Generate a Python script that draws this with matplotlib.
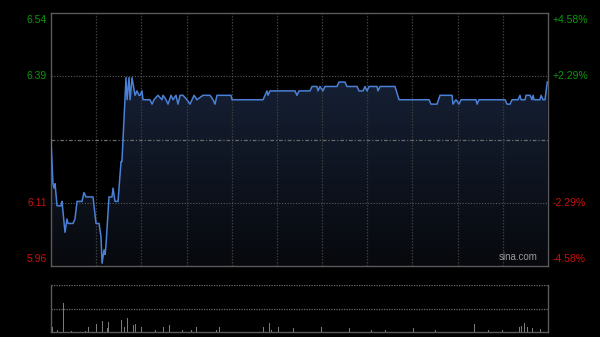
import numpy as np
import matplotlib
matplotlib.use("Agg")
import matplotlib.pyplot as plt
from matplotlib.patches import Polygon
from matplotlib.colors import LinearSegmentedColormap
import matplotlib.transforms as mtransforms

plt.rcParams['font.family'] = ['Liberation Sans', 'DejaVu Sans']

# ---- data ----
prev_close = 6.25
pct_limit = 4.58  # percent range shown
left_labels = ["6.54", "6.39", "6.11", "5.96"]
right_labels = ["+4.58%", "+2.29%", "-2.29%", "-4.58%"]
label_pcts = [4.58, 2.29, -2.29, -4.58]

# minutes since 9:30 (HK session, 330 trading minutes)
price_min = [0, 1.3, 2.0, 2.7, 4.0, 6.6, 7.3, 9.3, 10.6, 11.3, 14.6, 15.9, 17.3, 20.6,
             21.9, 23.2, 27.9, 29.9, 31.9, 33.2, 33.9, 35.2, 35.9, 36.5, 38.5, 40.5,
             41.2, 42.5, 44.5, 46.5, 47.1, 49.8, 50.5, 51.8, 52.5, 53.8, 55.8, 57.1,
             58.4, 59.1, 60.4, 61.1, 65.7, 67.1, 68.4, 71.0, 73.7, 74.4, 76.4, 77.7,
             79.7, 81.0, 83.0, 84.3, 85.7, 87.6, 90.3, 92.3, 95.0, 96.9, 100.9, 105.6,
             107.6, 108.9, 110.2, 119.5, 120.2, 140.8, 143.4, 144.1, 145.4, 162.0,
             163.3, 164.7, 172.0, 173.3, 176.6, 177.3, 178.6, 180.6, 181.9, 189.9,
             191.2, 195.2, 196.5, 203.2, 204.5, 207.2, 208.5, 209.8, 211.2, 216.5,
             217.1, 218.5, 228.4, 231.1, 251.0, 252.3, 256.3, 258.3, 266.3, 266.9,
             268.9, 270.9, 272.3, 282.2, 282.9, 284.2, 301.5, 302.8, 304.8, 306.1,
             310.1, 311.4, 312.1, 314.7, 315.4, 318.1, 319.4, 320.1, 320.7, 324.7,
             325.4, 326.7, 328.0, 329.5]
price_val = [6.25, 6.15, 6.14, 6.15, 6.10, 6.10, 6.11, 6.04, 6.07, 6.06, 6.06, 6.07,
             6.11, 6.11, 6.13, 6.12, 6.12, 6.06, 6.06, 6.03, 5.97, 6.00, 5.99, 6.01,
             6.12, 6.12, 6.14, 6.11, 6.11, 6.20, 6.20, 6.39, 6.34, 6.39, 6.34, 6.39,
             6.35, 6.36, 6.35, 6.35, 6.36, 6.34, 6.34, 6.33, 6.34, 6.35, 6.34, 6.35,
             6.34, 6.33, 6.35, 6.34, 6.35, 6.33, 6.35, 6.35, 6.34, 6.33, 6.35, 6.34,
             6.35, 6.35, 6.34, 6.33, 6.35, 6.35, 6.34, 6.34, 6.36, 6.35, 6.36, 6.36,
             6.35, 6.36, 6.36, 6.37, 6.37, 6.36, 6.37, 6.36, 6.37, 6.37, 6.38, 6.38,
             6.37, 6.37, 6.36, 6.36, 6.37, 6.36, 6.37, 6.37, 6.36, 6.37, 6.37, 6.34,
             6.34, 6.33, 6.33, 6.35, 6.35, 6.33, 6.34, 6.33, 6.34, 6.34, 6.33, 6.34,
             6.34, 6.33, 6.33, 6.34, 6.34, 6.35, 6.34, 6.34, 6.35, 6.35, 6.34, 6.35,
             6.34, 6.34, 6.35, 6.34, 6.34, 6.38]

vol_min = [0.7, 4.0, 8.0, 13.3, 23.2, 25.2, 30.5, 33.2, 33.9, 34.5, 37.8, 38.5, 47.1,
           48.5, 49.8, 51.1, 54.5, 56.4, 60.4, 69.1, 74.4, 78.4, 87.0, 93.0, 96.4,
           110.2, 111.6, 116.2, 140.8, 144.8, 146.1, 147.4, 150.8, 160.7, 179.3,
           197.9, 213.1, 222.3, 230.4, 240.5, 255.0, 281.2, 290.6, 300.0, 310.8,
           312.7, 314.7, 316.7, 320.0, 324.7]
vol_val = [11, 4, 62, 3, 3, 11, 17, 30, 23, 21, 9, 21, 26, 11, 45, 30, 15, 17, 11,
           4, 11, 15, 4, 4, 11, 5, 11, 19, 11, 19, 4, 6, 11, 9, 11, 9, 5, 4, 4, 9,
           4, 17, 4, 5, 11, 13, 19, 11, 8, 6]
vol_top = 100

# ---- figure ----
bg = '#000000'
fig = plt.figure(figsize=(6.0, 3.37), dpi=100, facecolor=bg)
W, H = 600, 337
L, R = 51, 548
ax = fig.add_axes([L / W, 1 - 266 / H, (R - L) / W, (266 - 13) / H], facecolor=bg)
axv = fig.add_axes([L / W, 1 - 332 / H, (R - L) / W, (332 - 285) / H], facecolor=bg)

ylo = prev_close * (1 - pct_limit / 100)
yhi = prev_close * (1 + pct_limit / 100)
ax.set_xlim(0, 330)
ax.set_ylim(ylo, yhi)

# gradient fill under the price line
cmap = LinearSegmentedColormap.from_list('g', ['#07090d', '#1b2842'])
grad = np.linspace(0, 1, 256).reshape(-1, 1)
im = ax.imshow(grad, extent=[0, 330, ylo, yhi], origin='lower', aspect='auto',
               cmap=cmap, zorder=1, interpolation='bilinear')
verts = [(price_min[0], ylo)] + list(zip(price_min, price_val)) + [(price_min[-1], ylo)]
poly = Polygon(verts, closed=True, facecolor='none', edgecolor='none')
ax.add_patch(poly)
im.set_clip_path(poly)

# grid
for m in range(30, 330, 30):
    ax.axvline(m, color='#3c3c3c', lw=0.9, ls=(0, (1.2, 1.2)), zorder=2)
for p in (2.29, -2.29):
    ax.axhline(prev_close * (1 + p / 100), color='#5a5a5a', lw=0.8, ls=(0, (1, 1.5)), zorder=2)
ax.axhline(prev_close, color='#6a6a6a', lw=0.9, ls=(0, (3, 1.5, 1, 1.5)), zorder=2)

ax.plot(price_min, price_val, color='#4a80d6', lw=1.1, zorder=3)

for s in ax.spines.values():
    s.set_color('#5a5a5a')
    s.set_linewidth(1.0)
ax.set_xticks([])
ax.set_yticks([])

green = '#0a9a0a'
red = '#c81010'
trans = mtransforms.blended_transform_factory(ax.transAxes, ax.transData)
for i, (lab, rlab, p) in enumerate(zip(left_labels, right_labels, label_pcts)):
    y = prev_close * (1 + p / 100)
    col = green if p > 0 else red
    if i == 0:
        va = 'top'
        off = -2
    elif i == len(left_labels) - 1:
        va = 'bottom'
        off = 2
    else:
        va = 'center'
        off = 0
    t1 = mtransforms.offset_copy(trans, fig=fig, x=-4, y=off, units='dots')
    ax.text(0, y, lab, transform=t1, ha='right', va=va, color=col, fontsize=7.5)
    t2 = mtransforms.offset_copy(trans, fig=fig, x=5, y=off, units='dots')
    ax.text(1, y, rlab, transform=t2, ha='left', va=va, color=col, fontsize=7.5)

ax.text(0.98, 0.015, 'sina.com', transform=ax.transAxes, ha='right', va='bottom',
        color='#9a9a9a', fontsize=7)

# volume panel
axv.set_xlim(0, 330)
axv.set_ylim(0, vol_top)
axv.bar(vol_min, vol_val, width=0.65, color='#7a7a7a', align='center', zorder=2)
axv.axhline(vol_top / 2, color='#6a6a6a', lw=0.9, ls=(0, (1, 1)), zorder=1)
axv.axhline(vol_top * 0.995, color='#6a6a6a', lw=0.9, ls=(0, (1, 1)), zorder=1)
axv.spines['top'].set_visible(False)
for k in ('left', 'right', 'bottom'):
    axv.spines[k].set_color('#5a5a5a')
    axv.spines[k].set_linewidth(1.0)
axv.set_xticks([])
axv.set_yticks([])

fig.savefig('out.png', dpi=100, facecolor=bg)
